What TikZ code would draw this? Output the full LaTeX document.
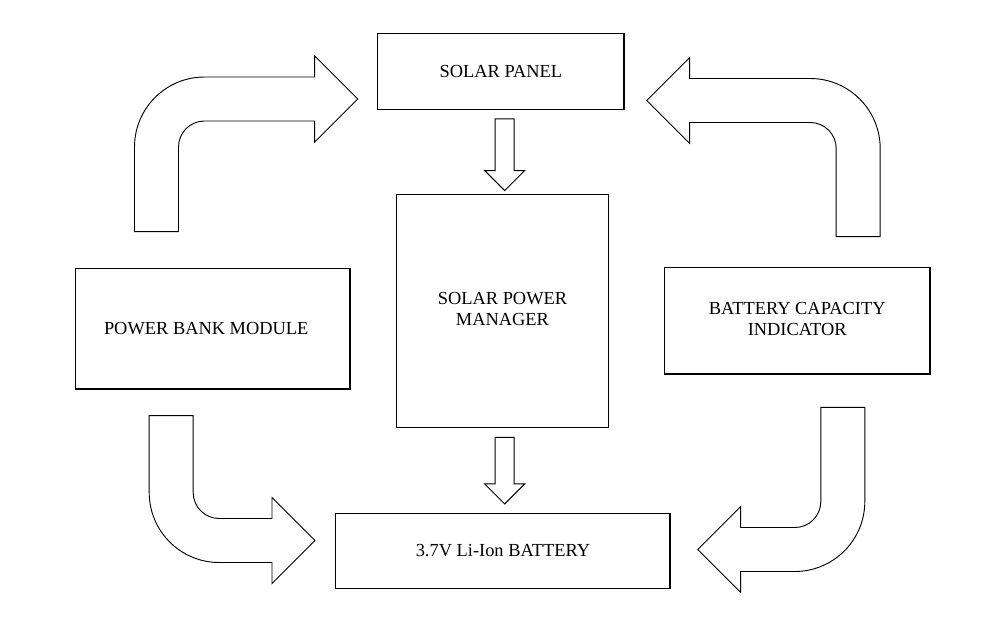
\documentclass[tikz,border=0pt]{standalone}
\usepackage{xcolor}
\usepackage{fontspec}
\setmainfont{Liberation Serif}
\usetikzlibrary{calc}

% bent block arrow, drawn round its corner: #1 shaft length, #2 tip distance
\newcommand{\bentarrow}[2]{%
\draw [bigarrow] (-22,#1) -- (-22,48) arc[start angle=180,end angle=270,radius=70] -- (#2-43,-22) -- (#2-43,-43) -- (#2,0) -- (#2-43,43) -- (#2-43,22) -- (48,22) arc[start angle=270,end angle=180,radius=26] -- (22,#1) -- cycle ;}
% straight block arrow pointing down from the top of its shaft: #1 length
\newcommand{\droparrow}[1]{%
\draw [bigarrow] (-9.5,0) -- (9.5,0) -- (9.5,#1-20) -- (20,#1-20) -- (0,#1) -- (-20,#1-20) -- (-9.5,#1-20) -- cycle ;}

\begin{document}
\begin{tikzpicture}[x=0.75pt,y=0.75pt,yscale=-1,xscale=1,
  block/.style={draw, line width=0.9pt, inner sep=2pt, align=center, font=\fontsize{13.8}{16}\selectfont},
  bigarrow/.style={draw, line width=0.7pt, line join=miter}]
\useasboundingbox (0,0) rectangle (1003,622);

% Blocks
\node [block, minimum width=184.7pt, minimum height=57pt] (panel) at (500.9,71.3) {SOLAR PANEL};
\node [block, minimum width=158.7pt, minimum height=174.8pt] (manager) at (502.5,310.8) {SOLAR POWER\\MANAGER\vspace*{3pt}};
\node [block, minimum width=205.7pt, minimum height=90.5pt] (bank) at (212.9,328.7) {POWER BANK MODULE\hspace*{10pt}};
\node [block, minimum width=199.3pt, minimum height=80pt] (indicator) at (797.2,320.7) {BATTERY CAPACITY\\INDICATOR\vspace*{3pt}};
\node [block, minimum width=250.7pt, minimum height=56.3pt] (battery) at (502.9,550.8) {3.7V Li-Ion BATTERY};

%Shape: down arrow, panel to manager
\begin{scope}[shift={($(panel.south)+(3.8,9)$)}]
\droparrow{71.7}
\end{scope}
%Shape: down arrow, manager to battery
\begin{scope}[shift={($(manager.south)+(2.2,9.4)$)}]
\droparrow{66.6}
\end{scope}

% Corners of the bent arrows
\coordinate (tlcorner) at (156.5,99);
\coordinate (trcorner) at (858.2,100.5);
\coordinate (blcorner) at (171.2,540.5);
\coordinate (brcorner) at (842.8,549.5);

%Shape: bent arrow up and right
\begin{scope}[shift={(tlcorner)}]
\bentarrow{132.7}{201.2}
\end{scope}
%Shape: bent arrow up and left
\begin{scope}[shift={(trcorner)},xscale=-1]
\bentarrow{136.2}{211.5}
\end{scope}
%Shape: bent arrow down and right
\begin{scope}[shift={(blcorner)},yscale=-1]
\bentarrow{124.8}{143.8}
\end{scope}
%Shape: bent arrow down and left
\begin{scope}[shift={(brcorner)},xscale=-1,yscale=-1]
\bentarrow{142.2}{145.1}
\end{scope}

\end{tikzpicture}
\end{document}
